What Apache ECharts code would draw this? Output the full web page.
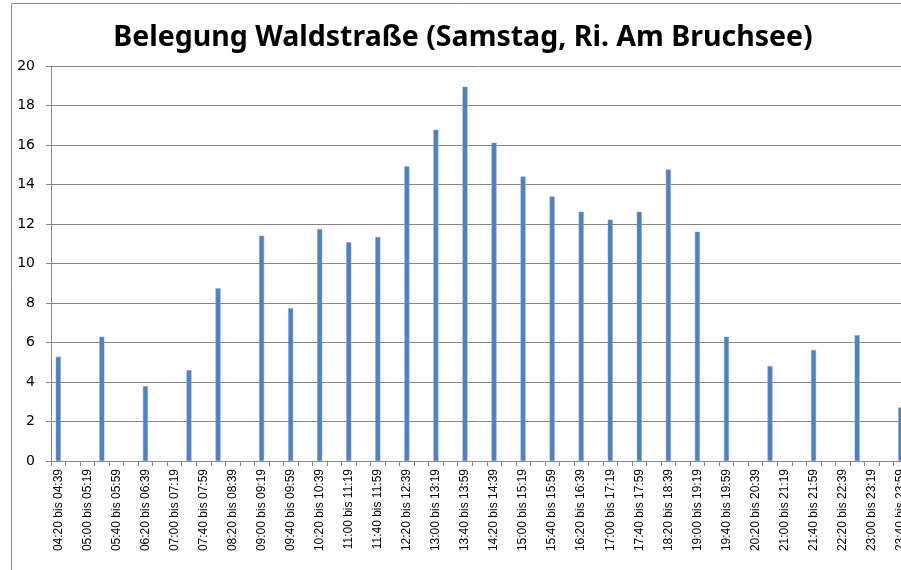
<!DOCTYPE html>
<html>
<head>
<meta charset="utf-8">
<script src="https://cdn.jsdelivr.net/npm/echarts@6/dist/echarts.min.js"></script>
<style>
html,body{margin:0;padding:0;background:#fff;overflow:hidden;}
#chart{width:910px;height:570px;}
</style>
</head>
<body>
<div id="chart"></div>
<script>
const titleText = "Belegung Waldstraße (Samstag, Ri. Am Bruchsee)";
const categories = [
"04:20 bis 04:39","04:40 bis 04:59","05:00 bis 05:19","05:20 bis 05:39","05:40 bis 05:59",
"06:00 bis 06:19","06:20 bis 06:39","06:40 bis 06:59","07:00 bis 07:19","07:20 bis 07:39",
"07:40 bis 07:59","08:00 bis 08:19","08:20 bis 08:39","08:40 bis 08:59","09:00 bis 09:19",
"09:20 bis 09:39","09:40 bis 09:59","10:00 bis 10:19","10:20 bis 10:39","10:40 bis 10:59",
"11:00 bis 11:19","11:20 bis 11:39","11:40 bis 11:59","12:00 bis 12:19","12:20 bis 12:39",
"12:40 bis 12:59","13:00 bis 13:19","13:20 bis 13:39","13:40 bis 13:59","14:00 bis 14:19",
"14:20 bis 14:39","14:40 bis 14:59","15:00 bis 15:19","15:20 bis 15:39","15:40 bis 15:59",
"16:00 bis 16:19","16:20 bis 16:39","16:40 bis 16:59","17:00 bis 17:19","17:20 bis 17:39",
"17:40 bis 17:59","18:00 bis 18:19","18:20 bis 18:39","18:40 bis 18:59","19:00 bis 19:19",
"19:20 bis 19:39","19:40 bis 19:59","20:00 bis 20:19","20:20 bis 20:39","20:40 bis 20:59",
"21:00 bis 21:19","21:20 bis 21:39","21:40 bis 21:59","22:00 bis 22:19","22:20 bis 22:39",
"22:40 bis 22:59","23:00 bis 23:19","23:20 bis 23:39","23:40 bis 23:59"
];
const belegung = [
5.28, null, null, 6.29, null,
null, 3.79, null, null, 4.6,
null, 8.75, null, null, 11.4,
null, 7.74, null, 11.75, null,
11.07, null, 11.34, null, 14.92,
null, 16.77, null, 18.95, null,
16.11, null, 14.4, null, 13.39,
null, 12.62, null, 12.22, null,
12.62, null, 14.76, null, 11.61,
null, 6.29, null, null, 4.81,
null, null, 5.62, null, null,
6.37, null, null, 2.71
];
const yTicks = [0, 2, 4, 6, 8, 10, 12, 14, 16, 18, 20];

const chart = echarts.init(document.getElementById('chart'), null, {renderer: 'canvas'});
chart.setOption({
  animation: false,
  backgroundColor: '#ffffff',
  graphic: [
    {type: 'line', shape: {x1: 11.5, y1: 3.5, x2: 910, y2: 3.5}, style: {stroke: '#8c8c8c', lineWidth: 1}, silent: true},
    {type: 'line', shape: {x1: 11.5, y1: 3.5, x2: 11.5, y2: 570}, style: {stroke: '#8c8c8c', lineWidth: 1}, silent: true},
    {type: 'text', x: 463, y: 38, style: {text: titleText, fill: '#000', font: 'bold 28.5px "Noto Sans", sans-serif', textAlign: 'center', textVerticalAlign: 'middle'}}
  ],
  grid: {left: 51, top: 66, width: 857, height: 395, containLabel: false},
  xAxis: {
    type: 'category',
    data: categories,
    boundaryGap: true,
    axisLine: {lineStyle: {color: '#868686', width: 1}},
    axisTick: {show: true, interval: 0, length: 5, lineStyle: {color: '#868686'}},
    axisLabel: {interval: 1, rotate: 90, margin: 8, fontSize: 12, color: '#000', fontFamily: '"Liberation Sans", sans-serif'},
    splitLine: {show: false}
  },
  yAxis: {
    type: 'value',
    min: yTicks[0],
    max: yTicks[yTicks.length - 1],
    interval: 2,
    axisLine: {show: true, lineStyle: {color: '#868686', width: 1}},
    axisTick: {show: true, length: 5, lineStyle: {color: '#868686'}},
    axisLabel: {margin: 16, fontSize: 14, color: '#000', fontFamily: '"DejaVu Sans", sans-serif'},
    splitLine: {show: true, lineStyle: {color: '#868686', width: 1}}
  },
  series: [{
    type: 'bar',
    data: belegung,
    barWidth: 5,
    itemStyle: {color: '#4F81BD', borderColor: '#7fa3d0', borderWidth: 0.5}
  }]
});
</script>
</body>
</html>
